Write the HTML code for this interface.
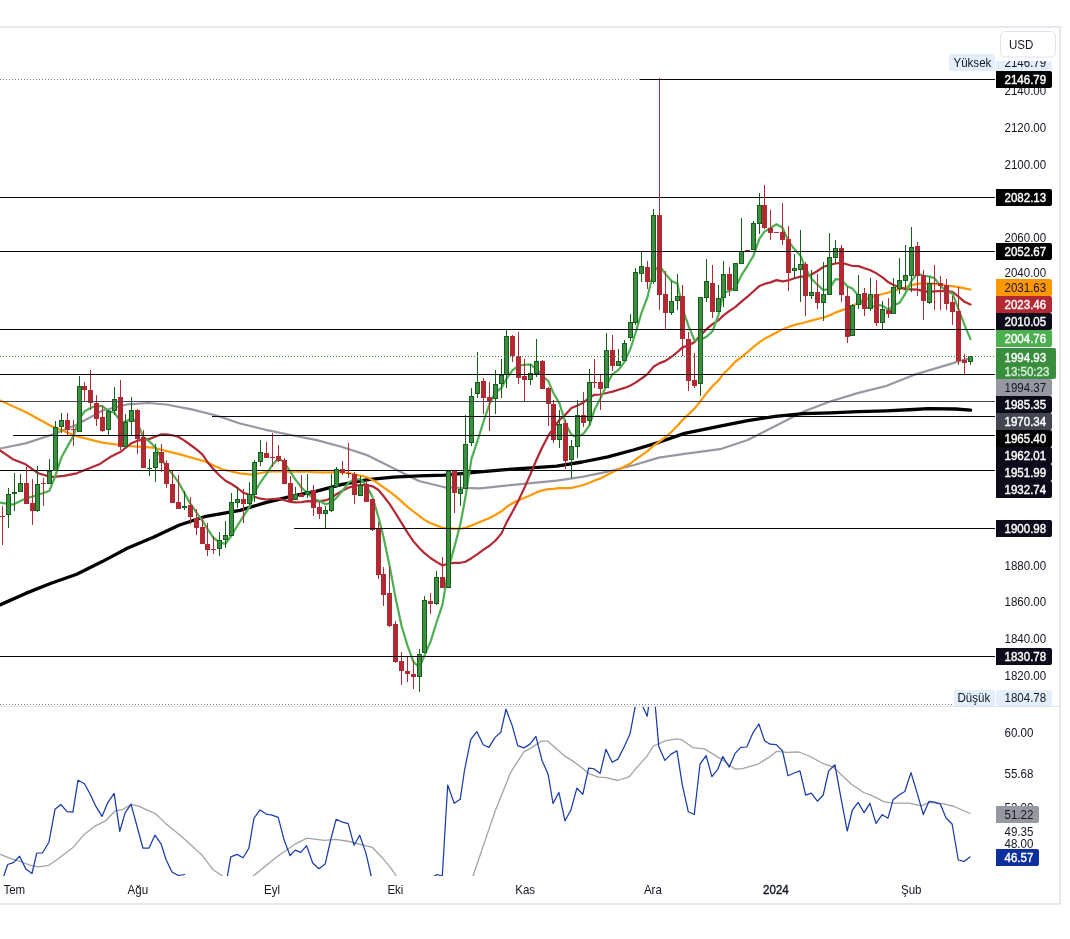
<!DOCTYPE html>
<html><head><meta charset="utf-8"><style>html,body{margin:0;padding:0;background:#fff;width:1070px;height:939px;overflow:hidden;position:relative}</style></head>
<body>
<svg width="1070" height="939" viewBox="0 0 1070 939" style="display:block;position:absolute;left:0;top:0;will-change:transform">
<rect width="1070" height="939" fill="#ffffff"/>
<defs><clipPath id="pc"><rect x="0" y="28" width="995" height="678"/></clipPath><clipPath id="rc"><rect x="0" y="707" width="995" height="169"/></clipPath></defs>
<g clip-path="url(#pc)">
<polyline points="0,448.5 25.6,443.4 51.1,435 76.7,424.7 102.2,410.7 127.8,404.3 148.2,403 166.1,404.5 191.7,409.4 217.3,415.8 240,423.5 265.6,429.8 291.1,435 316.7,440.1 342.2,447 367.8,455.4 393.4,468.2 418.9,481 444.5,487.3 480,488.4 505.6,485.7 531.1,483.2 556.7,480.6 582.2,476.8 607.8,471.7 633.4,465.3 658.9,457.6 684.5,453.8 720,449.2 747.7,440 775.4,426.1 803.1,411.7 830.8,401.2 858.4,392.9 886.1,386 913.8,374.9 941.5,366.6 969.2,358.3" fill="none" stroke="#9598a1" stroke-width="2.2" stroke-linejoin="round" stroke-linecap="round" />
<polyline points="0,604.9 25.6,593.4 51.1,583.2 76.7,574.2 102.2,561.6 127.8,548 153.4,537.2 178.9,525.2 204.5,516.7 240,510.3 265.6,502.7 291.1,496.3 316.7,491.2 342.2,484.3 367.8,479.7 393.4,477.1 418.9,475.8 444.5,475.1 480,471.8 505.6,469.6 531.1,467.9 556.7,466.1 582.2,462 607.8,456.9 633.4,450 658.9,442.3 684.5,433.4 720,426.1 747.7,420.6 775.4,416.4 803.1,413.7 830.8,412.8 858.4,411.7 886.1,410.9 913.8,409.5 927.7,408.7 955.4,409 970.6,410.1" fill="none" stroke="#000000" stroke-width="3.3" stroke-linejoin="round" stroke-linecap="round" />
<polyline points="0,400.4 25.6,412 51.1,426 76.7,436.2 102.2,442.6 127.8,446 153.4,447.7 178.9,454.1 204.5,461.3 222.4,469.5 240,473.3 252.8,474.6 265.6,472 278.3,471.2 290.5,472 295.5,471.5 301.5,471.6 307.5,471.6 313.5,472.1 319.5,472.3 325.5,472.3 331.5,472.3 336.5,472 342.5,472.1 348.5,473 354.5,474.5 360.5,475.6 366.5,477 372.5,479.9 378.5,483.6 383.5,487.4 389.5,491.5 395.5,496.2 401.5,501.4 407.5,506.9 413.5,511.5 419.5,516.1 424.5,519.9 430.5,523.2 436.5,525.4 442.5,527.8 448.5,528.2 454.5,528.8 460.5,528.8 465.5,527.7 471.5,525.4 477.5,522.9 483.5,520.5 489.5,518 495.5,514.8 501.5,511.3 506.5,507 512.5,503.3 518.5,500.2 524.5,497.7 530.5,495.2 536.5,492.4 542.5,490.3 548.5,489.1 553.5,488.8 559.5,488.2 565.5,488.2 571.5,487.9 577.5,486.5 583.5,485 589.5,482.7 594.5,480.5 600.5,478.4 606.5,475.2 612.5,472.3 618.5,469.3 624.5,466.4 630.5,463.5 635.5,459.5 641.5,455.3 647.5,451.1 653.5,445.7 659.5,441.5 665.5,437.2 671.5,431.7 677.5,425.7 682.5,420 688.5,414.4 694.5,408.6 700.5,401.1 706.5,393.2 712.5,386.3 718.5,380.3 723.5,373.7 729.5,368 735.5,361.5 741.5,357.1 747.5,352.2 753.5,346.9 759.5,342.1 764.5,338.8 770.5,335.8 776.5,332.5 782.5,329.3 788.5,327 794.5,324.9 800.5,323.5 805.5,322.3 811.5,320.6 817.5,319 823.5,317.5 829.5,315.4 835.5,312.6 841.5,310.4 847.5,308.4 852.5,306 858.5,302.6 864.5,299.9 870.5,297.5 876.5,295.5 882.5,294 888.5,292.6 893.5,290.6 899.5,289.2 905.5,287.4 911.5,285.1 917.5,283.8 923.5,283.4 929.5,283.6 934.5,283.9 940.5,284 946.5,285.8 952.5,286.1 958.5,287.1 964.5,288.3 970.5,289.5" fill="none" stroke="#ff9800" stroke-width="2.2" stroke-linejoin="round" stroke-linecap="round" />
<polyline points="0,450.3 12.8,459.2 25.6,464.3 38.3,473.3 51.1,477.1 63.9,475.8 76.7,473.3 100,463.9 111.2,456.4 120.6,451.8 125.5,448 131.5,443.2 137.5,440.7 143.5,439.6 149.5,438.9 155.5,436.5 161.5,434.4 166.5,434.4 172.5,435.3 178.5,437 184.5,440.6 190.5,445 196.5,449.4 202.5,454.6 207.5,462 213.5,469.3 219.5,475.5 225.5,480.8 231.5,484 237.5,488 243.5,492.8 249.5,494.9 254.5,496.8 260.5,498.7 266.5,499.5 272.5,499 278.5,498.7 284.5,500.2 290.5,501.9 295.5,502.3 301.5,502.1 307.5,501.2 313.5,501.4 319.5,501.2 325.5,500.4 331.5,497.9 336.5,494.2 342.5,490.7 348.5,487.6 354.5,485.8 360.5,485 366.5,485.1 372.5,486.3 378.5,490 383.5,496 389.5,503.9 395.5,513.2 401.5,522.9 407.5,532.6 413.5,541.4 419.5,548.3 424.5,553.1 430.5,558 436.5,561.9 442.5,565.5 448.5,563.5 454.5,562.8 460.5,562.8 465.5,561.7 471.5,558.2 477.5,554.1 483.5,549.6 489.5,545.8 495.5,540.5 501.5,533.4 506.5,522.6 512.5,511.7 518.5,500.4 524.5,487.6 530.5,474.1 536.5,459.8 542.5,446.7 548.5,435.4 553.5,428.1 559.5,419.8 565.5,414.6 571.5,408.1 577.5,405.6 583.5,402.4 589.5,397.5 594.5,394.8 600.5,394.5 606.5,393 612.5,391.6 618.5,389.8 624.5,387.9 630.5,385.5 635.5,382.6 641.5,378.5 647.5,374.1 653.5,366.7 659.5,363.1 665.5,360.9 671.5,356.9 677.5,352 682.5,347.4 688.5,345.5 694.5,342 700.5,335.3 706.5,329.2 712.5,324.2 718.5,320.3 723.5,315.4 729.5,310.9 735.5,306.9 741.5,301.7 747.5,296.7 753.5,291.2 759.5,285.9 764.5,283.9 770.5,282.4 776.5,280.1 782.5,281.3 788.5,280.3 794.5,278.3 800.5,276.6 805.5,276.6 811.5,274.5 817.5,271 823.5,266.8 829.5,265 835.5,263.5 841.5,262.8 847.5,264.5 852.5,266 858.5,266.1 864.5,268.2 870.5,270.2 876.5,273.4 882.5,277.3 888.5,282.3 893.5,285 899.5,287.2 905.5,289.1 911.5,289.4 917.5,289.6 923.5,291.1 929.5,291.9 934.5,291.3 940.5,291 946.5,291.1 952.5,291.8 958.5,296.6 964.5,301.8 970.5,304.5" fill="none" stroke="#b22833" stroke-width="2.2" stroke-linejoin="round" stroke-linecap="round" />
<polyline points="0,502.7 12.8,504.7 26.5,498 32.5,496.7 37.5,494.7 43.5,493.1 49.5,490.7 55.5,475.4 61.5,457.2 67.5,446.4 73.5,435.6 79.5,418.7 84.5,411.4 90.5,408 96.5,405.9 102.5,406.1 108.5,411 114.5,412.8 120.5,421.4 125.5,422 131.5,417.8 137.5,423.4 143.5,437.2 149.5,441.5 155.5,447.5 161.5,458.1 166.5,467.2 172.5,474.2 178.5,482.3 184.5,493.1 190.5,503.9 196.5,512.6 202.5,520.8 207.5,528.9 213.5,537.8 219.5,542.4 225.5,543.9 231.5,535.5 237.5,525.5 243.5,516.1 249.5,506.9 254.5,492.3 260.5,482.3 266.5,473.9 272.5,464.8 278.5,458.2 284.5,462.5 290.5,472.2 295.5,479.6 301.5,487.5 307.5,493.4 313.5,498.4 319.5,501.1 325.5,504.2 331.5,502.2 336.5,497.9 342.5,490.8 348.5,482.6 354.5,479.5 360.5,479.1 366.5,485.5 372.5,497 378.5,517.2 383.5,537.2 389.5,565.3 395.5,597.4 401.5,625.7 407.5,645.6 413.5,662 419.5,667.6 424.5,655.3 430.5,641.9 436.5,622.5 442.5,604.6 448.5,568.1 454.5,546.6 460.5,523.5 465.5,496.8 471.5,458.6 477.5,440.9 483.5,421.7 489.5,404.1 495.5,392.3 501.5,388 506.5,378.8 512.5,370.4 518.5,365.7 524.5,364.8 530.5,364.4 536.5,369.3 542.5,376 548.5,381.3 553.5,393.3 559.5,403.4 565.5,423.4 571.5,434.9 577.5,437.1 583.5,433.6 589.5,425.4 594.5,409.8 600.5,398.3 606.5,385.4 612.5,374.1 618.5,369.9 624.5,361.9 630.5,348.6 635.5,333 641.5,312.9 647.5,297 653.5,271.4 659.5,265.9 665.5,274 671.5,281 677.5,283.8 682.5,308.6 688.5,325.8 694.5,340.4 700.5,339.7 706.5,336.8 712.5,331.2 718.5,314.8 723.5,292.5 729.5,291 735.5,287.4 741.5,275.2 747.5,265.8 753.5,255.6 759.5,238.7 764.5,231.6 770.5,228 776.5,224.3 782.5,227.7 788.5,241.2 794.5,249.3 800.5,255.7 805.5,268.4 811.5,278.8 817.5,284.9 823.5,290.1 829.5,288.7 835.5,279.1 841.5,279.7 847.5,286.4 852.5,288.6 858.5,295.9 864.5,307.9 870.5,307.7 876.5,304.9 882.5,305.7 888.5,309.9 893.5,305.6 899.5,302.8 905.5,293.3 911.5,280.9 917.5,273.1 923.5,276 929.5,276.4 934.5,278.2 940.5,285.9 946.5,291.5 952.5,293.6 958.5,309.1 964.5,324.9 970.5,339.1" fill="none" stroke="#4caf50" stroke-width="2.2" stroke-linejoin="round" stroke-linecap="round" />
<rect x="0" y="470" width="996" height="1" fill="#08070f"/>
<rect x="2" y="506" width="1" height="39" fill="#b22833"/>
<rect x="0" y="516" width="5" height="1" fill="#b22833"/>
<rect x="8" y="488" width="1" height="40" fill="#145f19"/>
<rect x="6" y="494" width="5" height="21" fill="#145f19"/>
<rect x="7" y="495" width="3" height="19" fill="#3d8e41"/>
<rect x="14" y="473" width="1" height="38" fill="#145f19"/>
<rect x="12" y="492" width="5" height="2" fill="#145f19"/>
<rect x="20" y="474" width="1" height="18" fill="#145f19"/>
<rect x="18" y="483" width="5" height="9" fill="#145f19"/>
<rect x="19" y="484" width="3" height="7" fill="#3d8e41"/>
<rect x="26" y="467" width="1" height="37" fill="#b22833"/>
<rect x="24" y="483" width="5" height="21" fill="#b22833"/>
<rect x="32" y="479" width="1" height="46" fill="#b22833"/>
<rect x="30" y="503" width="5" height="8" fill="#b22833"/>
<rect x="37" y="466" width="1" height="46" fill="#145f19"/>
<rect x="35" y="484" width="5" height="27" fill="#145f19"/>
<rect x="36" y="485" width="3" height="25" fill="#3d8e41"/>
<rect x="43" y="478" width="1" height="28" fill="#b22833"/>
<rect x="41" y="483" width="5" height="1" fill="#b22833"/>
<rect x="49" y="459" width="1" height="25" fill="#145f19"/>
<rect x="47" y="471" width="5" height="13" fill="#145f19"/>
<rect x="48" y="472" width="3" height="11" fill="#3d8e41"/>
<rect x="55" y="421" width="1" height="50" fill="#145f19"/>
<rect x="53" y="427" width="5" height="44" fill="#145f19"/>
<rect x="54" y="428" width="3" height="42" fill="#3d8e41"/>
<rect x="61" y="413" width="1" height="20" fill="#145f19"/>
<rect x="59" y="420" width="5" height="7" fill="#145f19"/>
<rect x="60" y="421" width="3" height="5" fill="#3d8e41"/>
<rect x="67" y="413" width="1" height="22" fill="#b22833"/>
<rect x="65" y="420" width="5" height="10" fill="#b22833"/>
<rect x="73" y="420" width="1" height="26" fill="#b22833"/>
<rect x="71" y="429" width="5" height="1" fill="#b22833"/>
<rect x="79" y="376" width="1" height="56" fill="#145f19"/>
<rect x="77" y="386" width="5" height="46" fill="#145f19"/>
<rect x="78" y="387" width="3" height="44" fill="#3d8e41"/>
<rect x="84" y="382" width="1" height="20" fill="#b22833"/>
<rect x="82" y="386" width="5" height="4" fill="#b22833"/>
<rect x="90" y="370" width="1" height="40" fill="#b22833"/>
<rect x="88" y="390" width="5" height="13" fill="#b22833"/>
<rect x="96" y="395" width="1" height="31" fill="#b22833"/>
<rect x="94" y="403" width="5" height="16" fill="#b22833"/>
<rect x="102" y="406" width="1" height="26" fill="#b22833"/>
<rect x="100" y="417" width="5" height="14" fill="#b22833"/>
<rect x="108" y="410" width="1" height="25" fill="#145f19"/>
<rect x="106" y="411" width="5" height="19" fill="#145f19"/>
<rect x="107" y="412" width="3" height="17" fill="#3d8e41"/>
<rect x="114" y="387" width="1" height="28" fill="#145f19"/>
<rect x="112" y="399" width="5" height="12" fill="#145f19"/>
<rect x="113" y="400" width="3" height="10" fill="#3d8e41"/>
<rect x="120" y="380" width="1" height="70" fill="#b22833"/>
<rect x="118" y="397" width="5" height="50" fill="#b22833"/>
<rect x="125" y="414" width="1" height="33" fill="#145f19"/>
<rect x="123" y="422" width="5" height="25" fill="#145f19"/>
<rect x="124" y="423" width="3" height="23" fill="#3d8e41"/>
<rect x="131" y="397" width="1" height="39" fill="#145f19"/>
<rect x="129" y="410" width="5" height="12" fill="#145f19"/>
<rect x="130" y="411" width="3" height="10" fill="#3d8e41"/>
<rect x="137" y="409" width="1" height="45" fill="#b22833"/>
<rect x="135" y="410" width="5" height="29" fill="#b22833"/>
<rect x="143" y="430" width="1" height="38" fill="#b22833"/>
<rect x="141" y="437" width="5" height="31" fill="#b22833"/>
<rect x="149" y="459" width="1" height="17" fill="#145f19"/>
<rect x="147" y="468" width="5" height="1" fill="#145f19"/>
<rect x="155" y="444" width="1" height="38" fill="#145f19"/>
<rect x="153" y="452" width="5" height="16" fill="#145f19"/>
<rect x="154" y="453" width="3" height="14" fill="#3d8e41"/>
<rect x="161" y="444" width="1" height="28" fill="#b22833"/>
<rect x="159" y="452" width="5" height="11" fill="#b22833"/>
<rect x="166" y="460" width="1" height="28" fill="#b22833"/>
<rect x="164" y="463" width="5" height="21" fill="#b22833"/>
<rect x="172" y="471" width="1" height="32" fill="#b22833"/>
<rect x="170" y="484" width="5" height="19" fill="#b22833"/>
<rect x="178" y="475" width="1" height="34" fill="#b22833"/>
<rect x="176" y="502" width="5" height="7" fill="#b22833"/>
<rect x="184" y="491" width="1" height="19" fill="#145f19"/>
<rect x="182" y="506" width="5" height="2" fill="#145f19"/>
<rect x="190" y="497" width="1" height="27" fill="#b22833"/>
<rect x="188" y="505" width="5" height="12" fill="#b22833"/>
<rect x="196" y="509" width="1" height="26" fill="#b22833"/>
<rect x="194" y="518" width="5" height="10" fill="#b22833"/>
<rect x="202" y="517" width="1" height="27" fill="#b22833"/>
<rect x="200" y="527" width="5" height="17" fill="#b22833"/>
<rect x="207" y="523" width="1" height="33" fill="#b22833"/>
<rect x="205" y="544" width="5" height="6" fill="#b22833"/>
<rect x="213" y="536" width="1" height="18" fill="#b22833"/>
<rect x="211" y="549" width="5" height="1" fill="#b22833"/>
<rect x="219" y="532" width="1" height="24" fill="#145f19"/>
<rect x="217" y="540" width="5" height="9" fill="#145f19"/>
<rect x="218" y="541" width="3" height="7" fill="#3d8e41"/>
<rect x="225" y="521" width="1" height="27" fill="#145f19"/>
<rect x="223" y="535" width="5" height="5" fill="#145f19"/>
<rect x="224" y="536" width="3" height="3" fill="#3d8e41"/>
<rect x="231" y="493" width="1" height="43" fill="#145f19"/>
<rect x="229" y="502" width="5" height="34" fill="#145f19"/>
<rect x="230" y="503" width="3" height="32" fill="#3d8e41"/>
<rect x="237" y="487" width="1" height="21" fill="#145f19"/>
<rect x="235" y="499" width="5" height="4" fill="#145f19"/>
<rect x="236" y="500" width="3" height="2" fill="#3d8e41"/>
<rect x="243" y="489" width="1" height="34" fill="#b22833"/>
<rect x="241" y="499" width="5" height="5" fill="#b22833"/>
<rect x="249" y="482" width="1" height="23" fill="#145f19"/>
<rect x="247" y="494" width="5" height="10" fill="#145f19"/>
<rect x="248" y="495" width="3" height="8" fill="#3d8e41"/>
<rect x="254" y="460" width="1" height="42" fill="#145f19"/>
<rect x="252" y="462" width="5" height="33" fill="#145f19"/>
<rect x="253" y="463" width="3" height="31" fill="#3d8e41"/>
<rect x="260" y="440" width="1" height="26" fill="#145f19"/>
<rect x="258" y="452" width="5" height="10" fill="#145f19"/>
<rect x="259" y="453" width="3" height="8" fill="#3d8e41"/>
<rect x="266" y="442" width="1" height="16" fill="#b22833"/>
<rect x="264" y="453" width="5" height="5" fill="#b22833"/>
<rect x="272" y="433" width="1" height="34" fill="#b22833"/>
<rect x="270" y="457" width="5" height="1" fill="#b22833"/>
<rect x="278" y="445" width="1" height="17" fill="#b22833"/>
<rect x="276" y="456" width="5" height="5" fill="#b22833"/>
<rect x="284" y="458" width="1" height="26" fill="#b22833"/>
<rect x="282" y="460" width="5" height="24" fill="#b22833"/>
<rect x="290" y="476" width="1" height="25" fill="#b22833"/>
<rect x="288" y="483" width="5" height="18" fill="#b22833"/>
<rect x="295" y="487" width="1" height="13" fill="#145f19"/>
<rect x="293" y="494" width="5" height="6" fill="#145f19"/>
<rect x="294" y="495" width="3" height="4" fill="#3d8e41"/>
<rect x="301" y="475" width="1" height="22" fill="#b22833"/>
<rect x="299" y="494" width="5" height="3" fill="#b22833"/>
<rect x="307" y="474" width="1" height="24" fill="#145f19"/>
<rect x="305" y="491" width="5" height="4" fill="#145f19"/>
<rect x="306" y="492" width="3" height="2" fill="#3d8e41"/>
<rect x="313" y="485" width="1" height="31" fill="#b22833"/>
<rect x="311" y="490" width="5" height="18" fill="#b22833"/>
<rect x="319" y="502" width="1" height="17" fill="#b22833"/>
<rect x="317" y="507" width="5" height="7" fill="#b22833"/>
<rect x="325" y="506" width="1" height="22" fill="#145f19"/>
<rect x="323" y="510" width="5" height="4" fill="#145f19"/>
<rect x="324" y="511" width="3" height="2" fill="#3d8e41"/>
<rect x="331" y="474" width="1" height="38" fill="#145f19"/>
<rect x="329" y="487" width="5" height="24" fill="#145f19"/>
<rect x="330" y="488" width="3" height="22" fill="#3d8e41"/>
<rect x="336" y="467" width="1" height="20" fill="#145f19"/>
<rect x="334" y="469" width="5" height="18" fill="#145f19"/>
<rect x="335" y="470" width="3" height="16" fill="#3d8e41"/>
<rect x="342" y="461" width="1" height="14" fill="#b22833"/>
<rect x="340" y="469" width="5" height="4" fill="#b22833"/>
<rect x="348" y="443" width="1" height="35" fill="#b22833"/>
<rect x="346" y="473" width="5" height="1" fill="#b22833"/>
<rect x="354" y="472" width="1" height="32" fill="#b22833"/>
<rect x="352" y="474" width="5" height="21" fill="#b22833"/>
<rect x="360" y="476" width="1" height="20" fill="#145f19"/>
<rect x="358" y="485" width="5" height="11" fill="#145f19"/>
<rect x="359" y="486" width="3" height="9" fill="#3d8e41"/>
<rect x="366" y="480" width="1" height="22" fill="#b22833"/>
<rect x="364" y="484" width="5" height="18" fill="#b22833"/>
<rect x="372" y="499" width="1" height="32" fill="#b22833"/>
<rect x="370" y="499" width="5" height="31" fill="#b22833"/>
<rect x="378" y="522" width="1" height="57" fill="#b22833"/>
<rect x="376" y="529" width="5" height="46" fill="#b22833"/>
<rect x="383" y="567" width="1" height="39" fill="#b22833"/>
<rect x="381" y="574" width="5" height="21" fill="#b22833"/>
<rect x="389" y="567" width="1" height="60" fill="#b22833"/>
<rect x="387" y="593" width="5" height="33" fill="#b22833"/>
<rect x="395" y="621" width="1" height="42" fill="#b22833"/>
<rect x="393" y="624" width="5" height="38" fill="#b22833"/>
<rect x="401" y="652" width="1" height="33" fill="#b22833"/>
<rect x="399" y="661" width="5" height="10" fill="#b22833"/>
<rect x="407" y="656" width="1" height="26" fill="#b22833"/>
<rect x="405" y="671" width="5" height="3" fill="#b22833"/>
<rect x="413" y="660" width="1" height="29" fill="#b22833"/>
<rect x="411" y="674" width="5" height="3" fill="#b22833"/>
<rect x="419" y="649" width="1" height="43" fill="#145f19"/>
<rect x="417" y="654" width="5" height="23" fill="#145f19"/>
<rect x="418" y="655" width="3" height="21" fill="#3d8e41"/>
<rect x="424" y="596" width="1" height="57" fill="#145f19"/>
<rect x="422" y="600" width="5" height="53" fill="#145f19"/>
<rect x="423" y="601" width="3" height="51" fill="#3d8e41"/>
<rect x="430" y="593" width="1" height="21" fill="#b22833"/>
<rect x="428" y="601" width="5" height="3" fill="#b22833"/>
<rect x="436" y="571" width="1" height="34" fill="#145f19"/>
<rect x="434" y="577" width="5" height="27" fill="#145f19"/>
<rect x="435" y="578" width="3" height="25" fill="#3d8e41"/>
<rect x="442" y="557" width="1" height="31" fill="#b22833"/>
<rect x="440" y="577" width="5" height="11" fill="#b22833"/>
<rect x="448" y="470" width="1" height="118" fill="#145f19"/>
<rect x="446" y="471" width="5" height="117" fill="#145f19"/>
<rect x="447" y="472" width="3" height="115" fill="#3d8e41"/>
<rect x="454" y="470" width="1" height="43" fill="#b22833"/>
<rect x="452" y="471" width="5" height="22" fill="#b22833"/>
<rect x="460" y="473" width="1" height="33" fill="#145f19"/>
<rect x="458" y="489" width="5" height="5" fill="#145f19"/>
<rect x="459" y="490" width="3" height="3" fill="#3d8e41"/>
<rect x="465" y="415" width="1" height="74" fill="#145f19"/>
<rect x="463" y="444" width="5" height="45" fill="#145f19"/>
<rect x="464" y="445" width="3" height="43" fill="#3d8e41"/>
<rect x="471" y="388" width="1" height="58" fill="#145f19"/>
<rect x="469" y="396" width="5" height="47" fill="#145f19"/>
<rect x="470" y="397" width="3" height="45" fill="#3d8e41"/>
<rect x="477" y="352" width="1" height="46" fill="#145f19"/>
<rect x="475" y="382" width="5" height="12" fill="#145f19"/>
<rect x="476" y="383" width="3" height="10" fill="#3d8e41"/>
<rect x="483" y="378" width="1" height="36" fill="#b22833"/>
<rect x="481" y="381" width="5" height="17" fill="#b22833"/>
<rect x="489" y="382" width="1" height="49" fill="#b22833"/>
<rect x="487" y="397" width="5" height="4" fill="#b22833"/>
<rect x="495" y="370" width="1" height="44" fill="#145f19"/>
<rect x="493" y="384" width="5" height="15" fill="#145f19"/>
<rect x="494" y="385" width="3" height="13" fill="#3d8e41"/>
<rect x="501" y="359" width="1" height="39" fill="#145f19"/>
<rect x="499" y="375" width="5" height="9" fill="#145f19"/>
<rect x="500" y="376" width="3" height="7" fill="#3d8e41"/>
<rect x="506" y="330" width="1" height="58" fill="#145f19"/>
<rect x="504" y="336" width="5" height="39" fill="#145f19"/>
<rect x="505" y="337" width="3" height="37" fill="#3d8e41"/>
<rect x="512" y="335" width="1" height="27" fill="#b22833"/>
<rect x="510" y="336" width="5" height="20" fill="#b22833"/>
<rect x="518" y="332" width="1" height="52" fill="#b22833"/>
<rect x="516" y="356" width="5" height="22" fill="#b22833"/>
<rect x="524" y="359" width="1" height="43" fill="#b22833"/>
<rect x="522" y="376" width="5" height="4" fill="#b22833"/>
<rect x="530" y="364" width="1" height="21" fill="#145f19"/>
<rect x="528" y="373" width="5" height="7" fill="#145f19"/>
<rect x="529" y="374" width="3" height="5" fill="#3d8e41"/>
<rect x="536" y="339" width="1" height="38" fill="#145f19"/>
<rect x="534" y="361" width="5" height="13" fill="#145f19"/>
<rect x="535" y="362" width="3" height="11" fill="#3d8e41"/>
<rect x="542" y="360" width="1" height="29" fill="#b22833"/>
<rect x="540" y="361" width="5" height="28" fill="#b22833"/>
<rect x="548" y="387" width="1" height="39" fill="#b22833"/>
<rect x="546" y="388" width="5" height="16" fill="#b22833"/>
<rect x="553" y="400" width="1" height="43" fill="#b22833"/>
<rect x="551" y="404" width="5" height="36" fill="#b22833"/>
<rect x="559" y="410" width="1" height="38" fill="#145f19"/>
<rect x="557" y="424" width="5" height="16" fill="#145f19"/>
<rect x="558" y="425" width="3" height="14" fill="#3d8e41"/>
<rect x="565" y="420" width="1" height="49" fill="#b22833"/>
<rect x="563" y="423" width="5" height="38" fill="#b22833"/>
<rect x="571" y="440" width="1" height="38" fill="#145f19"/>
<rect x="569" y="446" width="5" height="14" fill="#145f19"/>
<rect x="570" y="447" width="3" height="12" fill="#3d8e41"/>
<rect x="577" y="400" width="1" height="58" fill="#145f19"/>
<rect x="575" y="415" width="5" height="32" fill="#145f19"/>
<rect x="576" y="416" width="3" height="30" fill="#3d8e41"/>
<rect x="583" y="392" width="1" height="35" fill="#b22833"/>
<rect x="581" y="415" width="5" height="8" fill="#b22833"/>
<rect x="589" y="369" width="1" height="56" fill="#145f19"/>
<rect x="587" y="382" width="5" height="39" fill="#145f19"/>
<rect x="588" y="383" width="3" height="37" fill="#3d8e41"/>
<rect x="594" y="359" width="1" height="29" fill="#b22833"/>
<rect x="592" y="382" width="5" height="1" fill="#b22833"/>
<rect x="600" y="374" width="1" height="36" fill="#b22833"/>
<rect x="598" y="382" width="5" height="7" fill="#b22833"/>
<rect x="606" y="333" width="1" height="55" fill="#145f19"/>
<rect x="604" y="350" width="5" height="38" fill="#145f19"/>
<rect x="605" y="351" width="3" height="36" fill="#3d8e41"/>
<rect x="612" y="335" width="1" height="36" fill="#b22833"/>
<rect x="610" y="350" width="5" height="16" fill="#b22833"/>
<rect x="618" y="349" width="1" height="17" fill="#145f19"/>
<rect x="616" y="361" width="5" height="5" fill="#145f19"/>
<rect x="617" y="362" width="3" height="3" fill="#3d8e41"/>
<rect x="624" y="340" width="1" height="21" fill="#145f19"/>
<rect x="622" y="343" width="5" height="18" fill="#145f19"/>
<rect x="623" y="344" width="3" height="16" fill="#3d8e41"/>
<rect x="630" y="314" width="1" height="27" fill="#145f19"/>
<rect x="628" y="322" width="5" height="16" fill="#145f19"/>
<rect x="629" y="323" width="3" height="14" fill="#3d8e41"/>
<rect x="635" y="268" width="1" height="57" fill="#145f19"/>
<rect x="633" y="272" width="5" height="51" fill="#145f19"/>
<rect x="634" y="273" width="3" height="49" fill="#3d8e41"/>
<rect x="641" y="251" width="1" height="31" fill="#145f19"/>
<rect x="639" y="266" width="5" height="8" fill="#145f19"/>
<rect x="640" y="267" width="3" height="6" fill="#3d8e41"/>
<rect x="647" y="261" width="1" height="28" fill="#b22833"/>
<rect x="645" y="267" width="5" height="15" fill="#b22833"/>
<rect x="653" y="209" width="1" height="75" fill="#145f19"/>
<rect x="651" y="215" width="5" height="67" fill="#145f19"/>
<rect x="652" y="216" width="3" height="65" fill="#3d8e41"/>
<rect x="659" y="78" width="1" height="232" fill="#b22833"/>
<rect x="657" y="215" width="5" height="80" fill="#b22833"/>
<rect x="665" y="271" width="1" height="58" fill="#b22833"/>
<rect x="663" y="294" width="5" height="19" fill="#b22833"/>
<rect x="671" y="281" width="1" height="34" fill="#145f19"/>
<rect x="669" y="301" width="5" height="12" fill="#145f19"/>
<rect x="670" y="302" width="3" height="10" fill="#3d8e41"/>
<rect x="677" y="274" width="1" height="36" fill="#145f19"/>
<rect x="675" y="296" width="5" height="5" fill="#145f19"/>
<rect x="676" y="297" width="3" height="3" fill="#3d8e41"/>
<rect x="682" y="285" width="1" height="71" fill="#b22833"/>
<rect x="680" y="296" width="5" height="43" fill="#b22833"/>
<rect x="688" y="332" width="1" height="59" fill="#b22833"/>
<rect x="686" y="339" width="5" height="42" fill="#b22833"/>
<rect x="694" y="353" width="1" height="35" fill="#b22833"/>
<rect x="692" y="380" width="5" height="6" fill="#b22833"/>
<rect x="700" y="297" width="1" height="99" fill="#145f19"/>
<rect x="698" y="297" width="5" height="87" fill="#145f19"/>
<rect x="699" y="298" width="3" height="85" fill="#3d8e41"/>
<rect x="706" y="259" width="1" height="43" fill="#145f19"/>
<rect x="704" y="281" width="5" height="17" fill="#145f19"/>
<rect x="705" y="282" width="3" height="15" fill="#3d8e41"/>
<rect x="712" y="265" width="1" height="53" fill="#b22833"/>
<rect x="710" y="283" width="5" height="29" fill="#b22833"/>
<rect x="718" y="285" width="1" height="27" fill="#145f19"/>
<rect x="716" y="298" width="5" height="14" fill="#145f19"/>
<rect x="717" y="299" width="3" height="12" fill="#3d8e41"/>
<rect x="723" y="261" width="1" height="46" fill="#145f19"/>
<rect x="721" y="274" width="5" height="24" fill="#145f19"/>
<rect x="722" y="275" width="3" height="22" fill="#3d8e41"/>
<rect x="729" y="267" width="1" height="29" fill="#b22833"/>
<rect x="727" y="274" width="5" height="16" fill="#b22833"/>
<rect x="735" y="263" width="1" height="28" fill="#145f19"/>
<rect x="733" y="263" width="5" height="28" fill="#145f19"/>
<rect x="734" y="264" width="3" height="26" fill="#3d8e41"/>
<rect x="741" y="218" width="1" height="46" fill="#145f19"/>
<rect x="739" y="251" width="5" height="13" fill="#145f19"/>
<rect x="740" y="252" width="3" height="11" fill="#3d8e41"/>
<rect x="747" y="250" width="1" height="1" fill="#b22833"/>
<rect x="745" y="250" width="5" height="1" fill="#b22833"/>
<rect x="753" y="221" width="1" height="29" fill="#145f19"/>
<rect x="751" y="223" width="5" height="27" fill="#145f19"/>
<rect x="752" y="224" width="3" height="25" fill="#3d8e41"/>
<rect x="759" y="193" width="1" height="41" fill="#145f19"/>
<rect x="757" y="205" width="5" height="19" fill="#145f19"/>
<rect x="758" y="206" width="3" height="17" fill="#3d8e41"/>
<rect x="764" y="185" width="1" height="44" fill="#b22833"/>
<rect x="762" y="205" width="5" height="23" fill="#b22833"/>
<rect x="770" y="210" width="1" height="30" fill="#b22833"/>
<rect x="768" y="228" width="5" height="5" fill="#b22833"/>
<rect x="776" y="232" width="1" height="1" fill="#b22833"/>
<rect x="774" y="232" width="5" height="1" fill="#b22833"/>
<rect x="782" y="203" width="1" height="42" fill="#b22833"/>
<rect x="780" y="232" width="5" height="8" fill="#b22833"/>
<rect x="788" y="226" width="1" height="65" fill="#b22833"/>
<rect x="786" y="239" width="5" height="34" fill="#b22833"/>
<rect x="794" y="254" width="1" height="25" fill="#145f19"/>
<rect x="792" y="268" width="5" height="3" fill="#145f19"/>
<rect x="793" y="269" width="3" height="1" fill="#3d8e41"/>
<rect x="800" y="230" width="1" height="72" fill="#145f19"/>
<rect x="798" y="264" width="5" height="6" fill="#145f19"/>
<rect x="799" y="265" width="3" height="4" fill="#3d8e41"/>
<rect x="805" y="262" width="1" height="54" fill="#b22833"/>
<rect x="803" y="264" width="5" height="32" fill="#b22833"/>
<rect x="811" y="270" width="1" height="29" fill="#145f19"/>
<rect x="809" y="292" width="5" height="4" fill="#145f19"/>
<rect x="810" y="293" width="3" height="2" fill="#3d8e41"/>
<rect x="817" y="274" width="1" height="35" fill="#b22833"/>
<rect x="815" y="292" width="5" height="11" fill="#b22833"/>
<rect x="823" y="262" width="1" height="59" fill="#145f19"/>
<rect x="821" y="294" width="5" height="9" fill="#145f19"/>
<rect x="822" y="295" width="3" height="7" fill="#3d8e41"/>
<rect x="829" y="233" width="1" height="62" fill="#145f19"/>
<rect x="827" y="257" width="5" height="38" fill="#145f19"/>
<rect x="828" y="258" width="3" height="36" fill="#3d8e41"/>
<rect x="835" y="240" width="1" height="23" fill="#145f19"/>
<rect x="833" y="248" width="5" height="10" fill="#145f19"/>
<rect x="834" y="249" width="3" height="8" fill="#3d8e41"/>
<rect x="841" y="245" width="1" height="57" fill="#b22833"/>
<rect x="839" y="248" width="5" height="47" fill="#b22833"/>
<rect x="847" y="287" width="1" height="56" fill="#b22833"/>
<rect x="845" y="296" width="5" height="41" fill="#b22833"/>
<rect x="852" y="304" width="1" height="32" fill="#145f19"/>
<rect x="850" y="305" width="5" height="31" fill="#145f19"/>
<rect x="851" y="306" width="3" height="29" fill="#3d8e41"/>
<rect x="858" y="275" width="1" height="34" fill="#145f19"/>
<rect x="856" y="294" width="5" height="11" fill="#145f19"/>
<rect x="857" y="295" width="3" height="9" fill="#3d8e41"/>
<rect x="864" y="288" width="1" height="28" fill="#b22833"/>
<rect x="862" y="293" width="5" height="16" fill="#b22833"/>
<rect x="870" y="278" width="1" height="33" fill="#145f19"/>
<rect x="868" y="294" width="5" height="15" fill="#145f19"/>
<rect x="869" y="295" width="3" height="13" fill="#3d8e41"/>
<rect x="876" y="280" width="1" height="46" fill="#b22833"/>
<rect x="874" y="294" width="5" height="29" fill="#b22833"/>
<rect x="882" y="301" width="1" height="28" fill="#145f19"/>
<rect x="880" y="309" width="5" height="14" fill="#145f19"/>
<rect x="881" y="310" width="3" height="12" fill="#3d8e41"/>
<rect x="888" y="298" width="1" height="20" fill="#b22833"/>
<rect x="886" y="310" width="5" height="4" fill="#b22833"/>
<rect x="893" y="278" width="1" height="36" fill="#145f19"/>
<rect x="891" y="287" width="5" height="27" fill="#145f19"/>
<rect x="892" y="288" width="3" height="25" fill="#3d8e41"/>
<rect x="899" y="258" width="1" height="36" fill="#145f19"/>
<rect x="897" y="280" width="5" height="9" fill="#145f19"/>
<rect x="898" y="281" width="3" height="7" fill="#3d8e41"/>
<rect x="905" y="245" width="1" height="45" fill="#145f19"/>
<rect x="903" y="275" width="5" height="6" fill="#145f19"/>
<rect x="904" y="276" width="3" height="4" fill="#3d8e41"/>
<rect x="911" y="227" width="1" height="65" fill="#145f19"/>
<rect x="909" y="247" width="5" height="29" fill="#145f19"/>
<rect x="910" y="248" width="3" height="27" fill="#3d8e41"/>
<rect x="917" y="242" width="1" height="54" fill="#b22833"/>
<rect x="915" y="246" width="5" height="30" fill="#b22833"/>
<rect x="923" y="270" width="1" height="50" fill="#b22833"/>
<rect x="921" y="275" width="5" height="26" fill="#b22833"/>
<rect x="929" y="277" width="1" height="27" fill="#145f19"/>
<rect x="927" y="283" width="5" height="20" fill="#145f19"/>
<rect x="928" y="284" width="3" height="18" fill="#3d8e41"/>
<rect x="934" y="265" width="1" height="45" fill="#b22833"/>
<rect x="932" y="283" width="5" height="1" fill="#b22833"/>
<rect x="940" y="276" width="1" height="34" fill="#b22833"/>
<rect x="938" y="283" width="5" height="3" fill="#b22833"/>
<rect x="946" y="279" width="1" height="31" fill="#b22833"/>
<rect x="944" y="285" width="5" height="19" fill="#b22833"/>
<rect x="952" y="296" width="1" height="29" fill="#b22833"/>
<rect x="950" y="302" width="5" height="10" fill="#b22833"/>
<rect x="958" y="287" width="1" height="78" fill="#b22833"/>
<rect x="956" y="311" width="5" height="50" fill="#b22833"/>
<rect x="964" y="354" width="1" height="21" fill="#b22833"/>
<rect x="962" y="360" width="5" height="3" fill="#b22833"/>
<rect x="970" y="356" width="1" height="9" fill="#145f19"/>
<rect x="968" y="356" width="5" height="6" fill="#145f19"/>
<rect x="969" y="357" width="3" height="4" fill="#3d8e41"/>
<line x1="0" y1="79.5" x2="640" y2="79.5" stroke="#787b86" stroke-width="1" stroke-dasharray="1 2"/>
<rect x="640" y="79" width="356" height="1" fill="#08070f"/>
<rect x="0" y="197" width="996" height="1" fill="#08070f"/>
<rect x="0" y="251" width="996" height="1" fill="#08070f"/>
<rect x="0" y="329" width="996" height="1" fill="#08070f"/>
<line x1="0" y1="356.5" x2="996" y2="356.5" stroke="#388e3c" stroke-width="1" stroke-dasharray="1 2"/>
<rect x="0" y="374" width="996" height="1" fill="#08070f"/>
<rect x="0" y="401" width="996" height="1" fill="#434651"/>
<rect x="212" y="416" width="784" height="1" fill="#08070f"/>
<rect x="13" y="435" width="983" height="1" fill="#08070f"/>
<rect x="294" y="528" width="702" height="1" fill="#08070f"/>
<rect x="0" y="656" width="996" height="1" fill="#08070f"/>
<line x1="0" y1="704.5" x2="954" y2="704.5" stroke="#787b86" stroke-width="1" stroke-dasharray="1 2"/>
</g>
<g clip-path="url(#rc)">
<polyline points="0,854.4 9.6,858.2 19.2,861.1 30.7,865.3 38.4,866.8 48.9,865.3 57.5,859.2 72.9,847.6 84.4,834.2 95.9,825.6 105.5,820.8 115,811.2 122.7,809.3 131.4,804.5 138,805.8 149.6,811.2 155.3,813.5 166.8,824.6 182.2,837.1 191.8,845.7 200,853.4 201.5,854.4 213,869.7 222.6,876" fill="none" stroke="#a3a3a3" stroke-width="1.3" stroke-linejoin="round" stroke-linecap="round" />
<polyline points="253.3,876 276.3,857.2 295.5,843.8 307,838.1 324.2,840.4 335.7,839.4 349.2,841.5 372.2,847.3 381.8,857.2 390,866.8 396.3,876" fill="none" stroke="#a3a3a3" stroke-width="1.3" stroke-linejoin="round" stroke-linecap="round" />
<polyline points="473,876 495.1,811.2 510.4,772.9 523.8,751.8 531.5,747.9 541.1,741.2 547.8,741.2 564.1,755.6 571.8,760.4 580,766.2 589.2,773.8 598.8,777.1 606.4,777.7 617.9,780.5 629.4,776.7 637.1,767.1 646.7,756.6 653.4,746 665.9,740.7 677.4,738.9 682.2,739.9 692.7,747.6 704.2,748.9 715.7,755.6 727.2,763.3 734.9,769 742.6,768.6 757.9,764.2 770,756.6 776.3,751.4 787.6,752.4 798.9,752 810.2,756.5 822.6,763.3 832.9,766.8 851.4,784.3 863.7,792.5 871.9,795.6 884.3,801.8 892.5,803.2 908.9,803.2 921.3,805.9 929.5,802.4 943.9,803.8 954.2,806.5 970,813.5" fill="none" stroke="#a3a3a3" stroke-width="1.3" stroke-linejoin="round" stroke-linecap="round" />
<polyline points="3.8,876 7.7,864.5 13.4,862.6 19.6,856.3 25.9,869.1 32,873.5 36.8,853 42.6,852.8 48.9,842.3 55,809.3 60.8,804.5 67.1,811.6 72.9,812.2 78,780.2 84.4,783.8 90.1,794 95.9,806.4 102,816.4 107.8,802.6 114.1,793.4 119.8,831.4 125,813.1 131,804.1 142.9,848 149,848 154.9,835.2 161.1,843.8 165.9,859.2 172,872 178.3,875.5 184.5,874.5" fill="none" stroke="#1a3ca8" stroke-width="1.25" stroke-linejoin="round" stroke-linecap="round" />
<polyline points="227.4,876 230.8,856.9 237,854.4 243.1,857.8 248.9,848.2 253.9,818.5 260,809.9 266.3,814.1 272.1,815.1 278.2,817.4 284,839.6 290.1,855.7 295.1,850.1 300.8,852.4 306.6,845.7 312.7,863 318.9,868.7 325.2,863.9 330.9,839 336.1,819.3 342.4,822.1 348.2,823.7 354,845.2 359.7,835.2 366,853.4 371.2,876" fill="none" stroke="#1a3ca8" stroke-width="1.25" stroke-linejoin="round" stroke-linecap="round" />
<polyline points="434.5,876 437,874.5 442.3,876" fill="none" stroke="#1a3ca8" stroke-width="1.25" stroke-linejoin="round" stroke-linecap="round" />
<polyline points="442.3,876 447.7,785 454.2,803.2 460.2,799.3 464.4,771 470.7,739.7 476.8,731.6 483.2,744.7 488.9,747.4 495.1,737.4 500.8,732.2 506,709.2 512.3,725.9 517.7,745.6 523.8,747.9 530,744.1 535.9,736.4 542,760.4 548.2,774.4 553,803.5 558.9,792.4 565,820.8 570.8,810.3 576.9,788.2 582.8,794.3 588.6,768.1 593.4,768.5 600.1,773.3 605.9,749.3 612.2,762.3 617.9,759.1 624.1,747 630,734.1 635.2,706.5" fill="none" stroke="#1a3ca8" stroke-width="1.25" stroke-linejoin="round" stroke-linecap="round" />
<polyline points="642.9,706.5 647.1,716.3 648.6,706.5" fill="none" stroke="#1a3ca8" stroke-width="1.25" stroke-linejoin="round" stroke-linecap="round" />
<polyline points="655.3,706.5 658.8,746.6 664.9,760.4 671.1,754.1 677,750.8 682.2,784.4 688.3,811.8 694.3,814.5 700,764.2 706.1,755.6 711.9,776.7 717.7,769.4 722.8,756.6 729.2,767.1 734.9,753.7 740.7,747.4 746.8,747 753.1,732.6 758.9,724 764.6,740.7 770.1,744.2 776.3,744.6 782.5,751 788,775.7 794.2,773 800,770.9 805.7,795.2 811.3,793.1 817.4,801.2 823.2,795 828.7,770.9 834.9,764.8 841.1,798.7 847.2,831 852.4,810 858.1,802.4 864.1,812.7 869.9,803.4 876,823.4 882.2,814.7 888,818.2 893.1,799.7 899.1,795 904.8,791.5 911,772.6 917.1,792.9 923.3,814.5 928.9,801.4 934.6,802.2 940.4,804.2 945.9,817.8 952.1,824 958.3,860 964,861.4 970,856.9" fill="none" stroke="#1a3ca8" stroke-width="1.25" stroke-linejoin="round" stroke-linecap="round" />
</g>
<rect x="0" y="26" width="1061" height="2" fill="#e6e8ee"/>
<rect x="1059" y="26" width="2" height="879" fill="#e6e8ee"/>
<rect x="0" y="903" width="1061" height="2" fill="#e6e8ee"/>
<rect x="0" y="706" width="1059" height="1" fill="#e0e3eb"/>
<text transform="matrix(0.93 0 0 1 1004.5 94.5)" x="0" y="0" fill="#131722" font-size="12.4" font-weight="normal" text-anchor="start" font-family="Liberation Sans, sans-serif" >2140.00</text>
<text transform="matrix(0.93 0 0 1 1004.5 131.9)" x="0" y="0" fill="#131722" font-size="12.4" font-weight="normal" text-anchor="start" font-family="Liberation Sans, sans-serif" >2120.00</text>
<text transform="matrix(0.93 0 0 1 1004.5 168.79999999999998)" x="0" y="0" fill="#131722" font-size="12.4" font-weight="normal" text-anchor="start" font-family="Liberation Sans, sans-serif" >2100.00</text>
<text transform="matrix(0.93 0 0 1 1004.5 242.2)" x="0" y="0" fill="#131722" font-size="12.4" font-weight="normal" text-anchor="start" font-family="Liberation Sans, sans-serif" >2060.00</text>
<text transform="matrix(0.93 0 0 1 1004.5 277.4)" x="0" y="0" fill="#131722" font-size="12.4" font-weight="normal" text-anchor="start" font-family="Liberation Sans, sans-serif" >2040.00</text>
<text transform="matrix(0.93 0 0 1 1004.5 570.4000000000001)" x="0" y="0" fill="#131722" font-size="12.4" font-weight="normal" text-anchor="start" font-family="Liberation Sans, sans-serif" >1880.00</text>
<text transform="matrix(0.93 0 0 1 1004.5 606.4000000000001)" x="0" y="0" fill="#131722" font-size="12.4" font-weight="normal" text-anchor="start" font-family="Liberation Sans, sans-serif" >1860.00</text>
<text transform="matrix(0.93 0 0 1 1004.5 643.4000000000001)" x="0" y="0" fill="#131722" font-size="12.4" font-weight="normal" text-anchor="start" font-family="Liberation Sans, sans-serif" >1840.00</text>
<text transform="matrix(0.93 0 0 1 1004.5 679.6)" x="0" y="0" fill="#131722" font-size="12.4" font-weight="normal" text-anchor="start" font-family="Liberation Sans, sans-serif" >1820.00</text>
<text transform="matrix(0.93 0 0 1 1004.5 737.1)" x="0" y="0" fill="#131722" font-size="12.4" font-weight="normal" text-anchor="start" font-family="Liberation Sans, sans-serif" >60.00</text>
<text transform="matrix(0.93 0 0 1 1004.5 778.1)" x="0" y="0" fill="#131722" font-size="12.4" font-weight="normal" text-anchor="start" font-family="Liberation Sans, sans-serif" >55.68</text>
<text transform="matrix(0.93 0 0 1 1004.5 812.4000000000001)" x="0" y="0" fill="#131722" font-size="12.4" font-weight="normal" text-anchor="start" font-family="Liberation Sans, sans-serif" >52.00</text>
<text transform="matrix(0.93 0 0 1 1004.5 835.8000000000001)" x="0" y="0" fill="#131722" font-size="12.4" font-weight="normal" text-anchor="start" font-family="Liberation Sans, sans-serif" >49.35</text>
<text transform="matrix(0.93 0 0 1 1004.5 847.5)" x="0" y="0" fill="#131722" font-size="12.4" font-weight="normal" text-anchor="start" font-family="Liberation Sans, sans-serif" >48.00</text>
<rect x="949" y="54" width="46" height="17" rx="2" fill="#e3effd"/>
<text transform="matrix(0.93 0 0 1 953.5 66.6)" x="0" y="0" fill="#131722" font-size="12.4" font-weight="normal" text-anchor="start" font-family="Liberation Sans, sans-serif" >Yüksek</text>
<rect x="996" y="54" width="56" height="17" rx="2" fill="#e3effd"/>
<text transform="matrix(0.93 0 0 1 1004.5 66.6)" x="0" y="0" fill="#131722" font-size="12.4" font-weight="normal" text-anchor="start" font-family="Liberation Sans, sans-serif" >2146.79</text>
<rect x="954" y="690" width="41" height="16" rx="2" fill="#e3effd"/>
<text transform="matrix(0.93 0 0 1 957.5 702.2)" x="0" y="0" fill="#131722" font-size="12.4" font-weight="normal" text-anchor="start" font-family="Liberation Sans, sans-serif" >Düşük</text>
<rect x="996" y="690" width="56" height="16" rx="2" fill="#e3effd"/>
<text transform="matrix(0.93 0 0 1 1004.5 702.2)" x="0" y="0" fill="#131722" font-size="12.4" font-weight="normal" text-anchor="start" font-family="Liberation Sans, sans-serif" >1804.78</text>
<rect x="996" y="28" width="62" height="33" fill="#ffffff"/>
<rect x="1000.5" y="31.5" width="55" height="25.5" rx="4.5" fill="#ffffff" stroke="#e0e3eb" stroke-width="1"/>
<text transform="matrix(0.93 0 0 1 1009 49)" x="0" y="0" fill="#131722" font-size="12.4" font-weight="normal" text-anchor="start" font-family="Liberation Sans, sans-serif" >USD</text>
<rect x="996" y="71" width="56" height="17" rx="2" fill="#000000"/><rect x="996" y="71" width="28.0" height="17" fill="#000000"/><text transform="matrix(0.93 0 0 1 1004.5 83.7)" x="0" y="0" fill="#ffffff" font-size="12.4" font-weight="normal" text-anchor="start" font-family="Liberation Sans, sans-serif"  stroke="#ffffff" stroke-width="0.4">2146.79</text>
<rect x="996" y="189" width="56" height="17" rx="2" fill="#000000"/><rect x="996" y="189" width="28.0" height="17" fill="#000000"/><text transform="matrix(0.93 0 0 1 1004.5 201.7)" x="0" y="0" fill="#ffffff" font-size="12.4" font-weight="normal" text-anchor="start" font-family="Liberation Sans, sans-serif"  stroke="#ffffff" stroke-width="0.4">2082.13</text>
<rect x="996" y="243" width="56" height="17" rx="2" fill="#000000"/><rect x="996" y="243" width="28.0" height="17" fill="#000000"/><text transform="matrix(0.93 0 0 1 1004.5 255.7)" x="0" y="0" fill="#ffffff" font-size="12.4" font-weight="normal" text-anchor="start" font-family="Liberation Sans, sans-serif"  stroke="#ffffff" stroke-width="0.4">2052.67</text>
<rect x="996" y="279" width="56" height="17" rx="2" fill="#ff9800"/><rect x="996" y="279" width="28.0" height="17" fill="#ff9800"/><text transform="matrix(0.93 0 0 1 1004.5 291.7)" x="0" y="0" fill="#131722" font-size="12.4" font-weight="normal" text-anchor="start" font-family="Liberation Sans, sans-serif" >2031.63</text>
<rect x="996" y="296" width="56" height="17" rx="2" fill="#b22833"/><rect x="996" y="296" width="28.0" height="17" fill="#b22833"/><text transform="matrix(0.93 0 0 1 1004.5 308.7)" x="0" y="0" fill="#ffffff" font-size="12.4" font-weight="normal" text-anchor="start" font-family="Liberation Sans, sans-serif"  stroke="#ffffff" stroke-width="0.4">2023.46</text>
<rect x="996" y="313" width="56" height="17" rx="2" fill="#0c0b1a"/><rect x="996" y="313" width="28.0" height="17" fill="#0c0b1a"/><text transform="matrix(0.93 0 0 1 1004.5 325.7)" x="0" y="0" fill="#ffffff" font-size="12.4" font-weight="normal" text-anchor="start" font-family="Liberation Sans, sans-serif"  stroke="#ffffff" stroke-width="0.4">2010.05</text>
<rect x="996" y="330" width="56" height="17" rx="2" fill="#4caf50"/><rect x="996" y="330" width="28.0" height="17" fill="#4caf50"/><text transform="matrix(0.93 0 0 1 1004.5 342.7)" x="0" y="0" fill="#ffffff" font-size="12.4" font-weight="normal" text-anchor="start" font-family="Liberation Sans, sans-serif"  stroke="#ffffff" stroke-width="0.4">2004.76</text>
<rect x="996" y="348" width="60" height="31" rx="2" fill="#388e3c"/><rect x="996" y="348" width="30" height="31" fill="#388e3c"/>
<text transform="matrix(0.93 0 0 1 1004.5 361.6)" x="0" y="0" fill="#ffffff" font-size="12.4" font-weight="normal" text-anchor="start" font-family="Liberation Sans, sans-serif"  stroke="#ffffff" stroke-width="0.4">1994.93</text>
<text transform="matrix(0.93 0 0 1 1004.5 376)" x="0" y="0" fill="#d7ecd8" font-size="12.4" font-weight="normal" text-anchor="start" font-family="Liberation Sans, sans-serif"  stroke="#d7ecd8" stroke-width="0.4">13:50:23</text>
<rect x="996" y="379" width="56" height="17" rx="2" fill="#9598a1"/><rect x="996" y="379" width="28.0" height="17" fill="#9598a1"/><text transform="matrix(0.93 0 0 1 1004.5 391.7)" x="0" y="0" fill="#131722" font-size="12.4" font-weight="normal" text-anchor="start" font-family="Liberation Sans, sans-serif" >1994.37</text>
<rect x="996" y="396" width="56" height="17" rx="2" fill="#0c0b1a"/><rect x="996" y="396" width="28.0" height="17" fill="#0c0b1a"/><text transform="matrix(0.93 0 0 1 1004.5 408.7)" x="0" y="0" fill="#ffffff" font-size="12.4" font-weight="normal" text-anchor="start" font-family="Liberation Sans, sans-serif"  stroke="#ffffff" stroke-width="0.4">1985.35</text>
<rect x="996" y="413" width="56" height="17" rx="2" fill="#434651"/><rect x="996" y="413" width="28.0" height="17" fill="#434651"/><text transform="matrix(0.93 0 0 1 1004.5 425.7)" x="0" y="0" fill="#ffffff" font-size="12.4" font-weight="normal" text-anchor="start" font-family="Liberation Sans, sans-serif"  stroke="#ffffff" stroke-width="0.4">1970.34</text>
<rect x="996" y="430" width="56" height="17" rx="2" fill="#000000"/><rect x="996" y="430" width="28.0" height="17" fill="#000000"/><text transform="matrix(0.93 0 0 1 1004.5 442.7)" x="0" y="0" fill="#ffffff" font-size="12.4" font-weight="normal" text-anchor="start" font-family="Liberation Sans, sans-serif"  stroke="#ffffff" stroke-width="0.4">1965.40</text>
<rect x="996" y="447" width="56" height="17" rx="2" fill="#0c0b1a"/><rect x="996" y="447" width="28.0" height="17" fill="#0c0b1a"/><text transform="matrix(0.93 0 0 1 1004.5 459.7)" x="0" y="0" fill="#ffffff" font-size="12.4" font-weight="normal" text-anchor="start" font-family="Liberation Sans, sans-serif"  stroke="#ffffff" stroke-width="0.4">1962.01</text>
<rect x="996" y="464" width="56" height="17" rx="2" fill="#0c0b1a"/><rect x="996" y="464" width="28.0" height="17" fill="#0c0b1a"/><text transform="matrix(0.93 0 0 1 1004.5 476.7)" x="0" y="0" fill="#ffffff" font-size="12.4" font-weight="normal" text-anchor="start" font-family="Liberation Sans, sans-serif"  stroke="#ffffff" stroke-width="0.4">1951.99</text>
<rect x="996" y="481" width="56" height="17" rx="2" fill="#0c0b1a"/><rect x="996" y="481" width="28.0" height="17" fill="#0c0b1a"/><text transform="matrix(0.93 0 0 1 1004.5 493.7)" x="0" y="0" fill="#ffffff" font-size="12.4" font-weight="normal" text-anchor="start" font-family="Liberation Sans, sans-serif"  stroke="#ffffff" stroke-width="0.4">1932.74</text>
<rect x="996" y="520" width="56" height="17" rx="2" fill="#0c0b1a"/><rect x="996" y="520" width="28.0" height="17" fill="#0c0b1a"/><text transform="matrix(0.93 0 0 1 1004.5 532.7)" x="0" y="0" fill="#ffffff" font-size="12.4" font-weight="normal" text-anchor="start" font-family="Liberation Sans, sans-serif"  stroke="#ffffff" stroke-width="0.4">1900.98</text>
<rect x="996" y="648" width="56" height="17" rx="2" fill="#0c0b1a"/><rect x="996" y="648" width="28.0" height="17" fill="#0c0b1a"/><text transform="matrix(0.93 0 0 1 1004.5 660.7)" x="0" y="0" fill="#ffffff" font-size="12.4" font-weight="normal" text-anchor="start" font-family="Liberation Sans, sans-serif"  stroke="#ffffff" stroke-width="0.4">1830.78</text>
<rect x="996" y="806" width="43" height="17" rx="2" fill="#9598a1"/><rect x="996" y="806" width="21.5" height="17" fill="#9598a1"/><text transform="matrix(0.93 0 0 1 1004.5 818.7)" x="0" y="0" fill="#131722" font-size="12.4" font-weight="normal" text-anchor="start" font-family="Liberation Sans, sans-serif" >51.22</text>
<rect x="996" y="849" width="43" height="17" rx="2" fill="#0d2f9e"/><rect x="996" y="849" width="21.5" height="17" fill="#0d2f9e"/><text transform="matrix(0.93 0 0 1 1004.5 861.7)" x="0" y="0" fill="#ffffff" font-size="12.4" font-weight="normal" text-anchor="start" font-family="Liberation Sans, sans-serif"  stroke="#ffffff" stroke-width="0.4">46.57</text>
<text transform="matrix(0.93 0 0 1 3.4 894.2)" x="0" y="0" fill="#131722" font-size="12.4" font-weight="normal" text-anchor="start" font-family="Liberation Sans, sans-serif" >Tem</text>
<text transform="matrix(0.93 0 0 1 127.6 894.2)" x="0" y="0" fill="#131722" font-size="12.4" font-weight="normal" text-anchor="start" font-family="Liberation Sans, sans-serif" >Ağu</text>
<text transform="matrix(0.93 0 0 1 264.1 894.2)" x="0" y="0" fill="#131722" font-size="12.4" font-weight="normal" text-anchor="start" font-family="Liberation Sans, sans-serif" >Eyl</text>
<text transform="matrix(0.93 0 0 1 387.4 894.2)" x="0" y="0" fill="#131722" font-size="12.4" font-weight="normal" text-anchor="start" font-family="Liberation Sans, sans-serif" >Eki</text>
<text transform="matrix(0.93 0 0 1 515.2 894.2)" x="0" y="0" fill="#131722" font-size="12.4" font-weight="normal" text-anchor="start" font-family="Liberation Sans, sans-serif" >Kas</text>
<text transform="matrix(0.93 0 0 1 643.9 894.2)" x="0" y="0" fill="#131722" font-size="12.4" font-weight="normal" text-anchor="start" font-family="Liberation Sans, sans-serif" >Ara</text>
<text transform="matrix(0.93 0 0 1 901 894.2)" x="0" y="0" fill="#131722" font-size="12.4" font-weight="normal" text-anchor="start" font-family="Liberation Sans, sans-serif" >Şub</text>
<text transform="matrix(0.93 0 0 1 763.1 894.2)" x="0" y="0" fill="#131722" font-size="12.4" font-weight="normal" text-anchor="start" font-family="Liberation Sans, sans-serif"  stroke="#131722" stroke-width="0.4">2024</text>
</svg>
</body></html>
